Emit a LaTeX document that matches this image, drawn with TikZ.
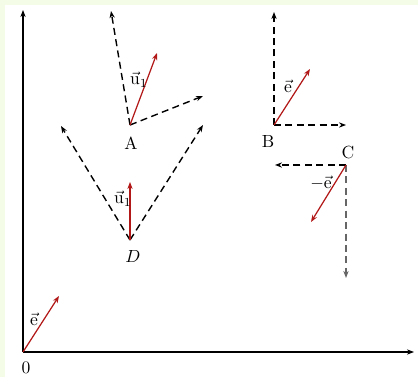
\documentclass[tikz,border=0pt]{standalone}
\usetikzlibrary{arrows.meta}
\definecolor{vecred}{RGB}{178,24,24}
\definecolor{framegreen}{RGB}{244,252,232}
\begin{document}
\begin{tikzpicture}[x=0.02cm, y=-0.02cm, >={Stealth[length=4pt, width=3pt]},
            axis/.style={->, line width=1.1pt}, aux/.style={->, dash pattern=on 4pt off 2.5pt, line width=0.8pt},
            vecr/.style={->, vecred, line width=0.7pt}, lbl/.style={inner sep=1pt}]
            \fill[framegreen] (0,0) rectangle (418,377); \fill[white] (5,5) rectangle (418,377);
            \useasboundingbox (0,0) rectangle (418,377);
            % points and ends
            \coordinate (O) at (23,352); \coordinate (xe) at (414,352); \coordinate (ye) at (23,10); \coordinate (Oe) at (59,296);
            \coordinate (A) at (130,125); \coordinate (A1) at (111,11); \coordinate (A2) at (203,96); \coordinate (Au) at (157,53);
            \coordinate (B) at (274,125); \coordinate (B1) at (274,12); \coordinate (B2) at (346,125); \coordinate (Be) at (310,69);
            \coordinate (C) at (346,165); \coordinate (C1) at (275,165); \coordinate (C2) at (346,278); \coordinate (Ce) at (311,222);
            \coordinate (D) at (130,240); \coordinate (D1) at (61,126); \coordinate (D2) at (203,125); \coordinate (Du) at (130,182);
            \draw[axis] (O) -- (xe); \draw[axis] (O) -- (ye);
            \draw[aux] (A) -- (A1); \draw[aux] (A) -- (A2);
            \draw[aux] (B) -- (B1); \draw[aux] (B) -- (B2);
            \draw[aux] (C) -- (C1); \draw[aux, black!60] (C) -- (C2);
            \draw[aux] (D) -- (D1); \draw[aux] (D) -- (D2);
            \draw[vecr] (O) -- (Oe); \draw[vecr] (A) -- (Au); \draw[vecr] (B) -- (Be); \draw[vecr] (C) -- (Ce); \draw[vecr] (D) -- (Du);
            % labels
            \node[lbl] (lO) at (26,368) {0}; \node[lbl] (lA) at (131,143) {A}; \node[lbl] (lB) at (268,142) {B};
            \node[lbl] (lC) at (348,153) {C}; \node[lbl] (lD) at (133,256) {$D$};
            \node[lbl] (le0) at (34,319) {$\vec{\mathrm{e}}$}; \node[lbl] (luA) at (139,80) {$\vec{\mathrm{u}}_1$};
            \node[lbl] (leB) at (288,86) {$\vec{\mathrm{e}}$}; \node[lbl] (leC) at (321,183) {$-\vec{\mathrm{e}}$};
            \node[lbl] (luD) at (123,199) {$\vec{\mathrm{u}}_1$};
        \end{tikzpicture}
\end{document}
